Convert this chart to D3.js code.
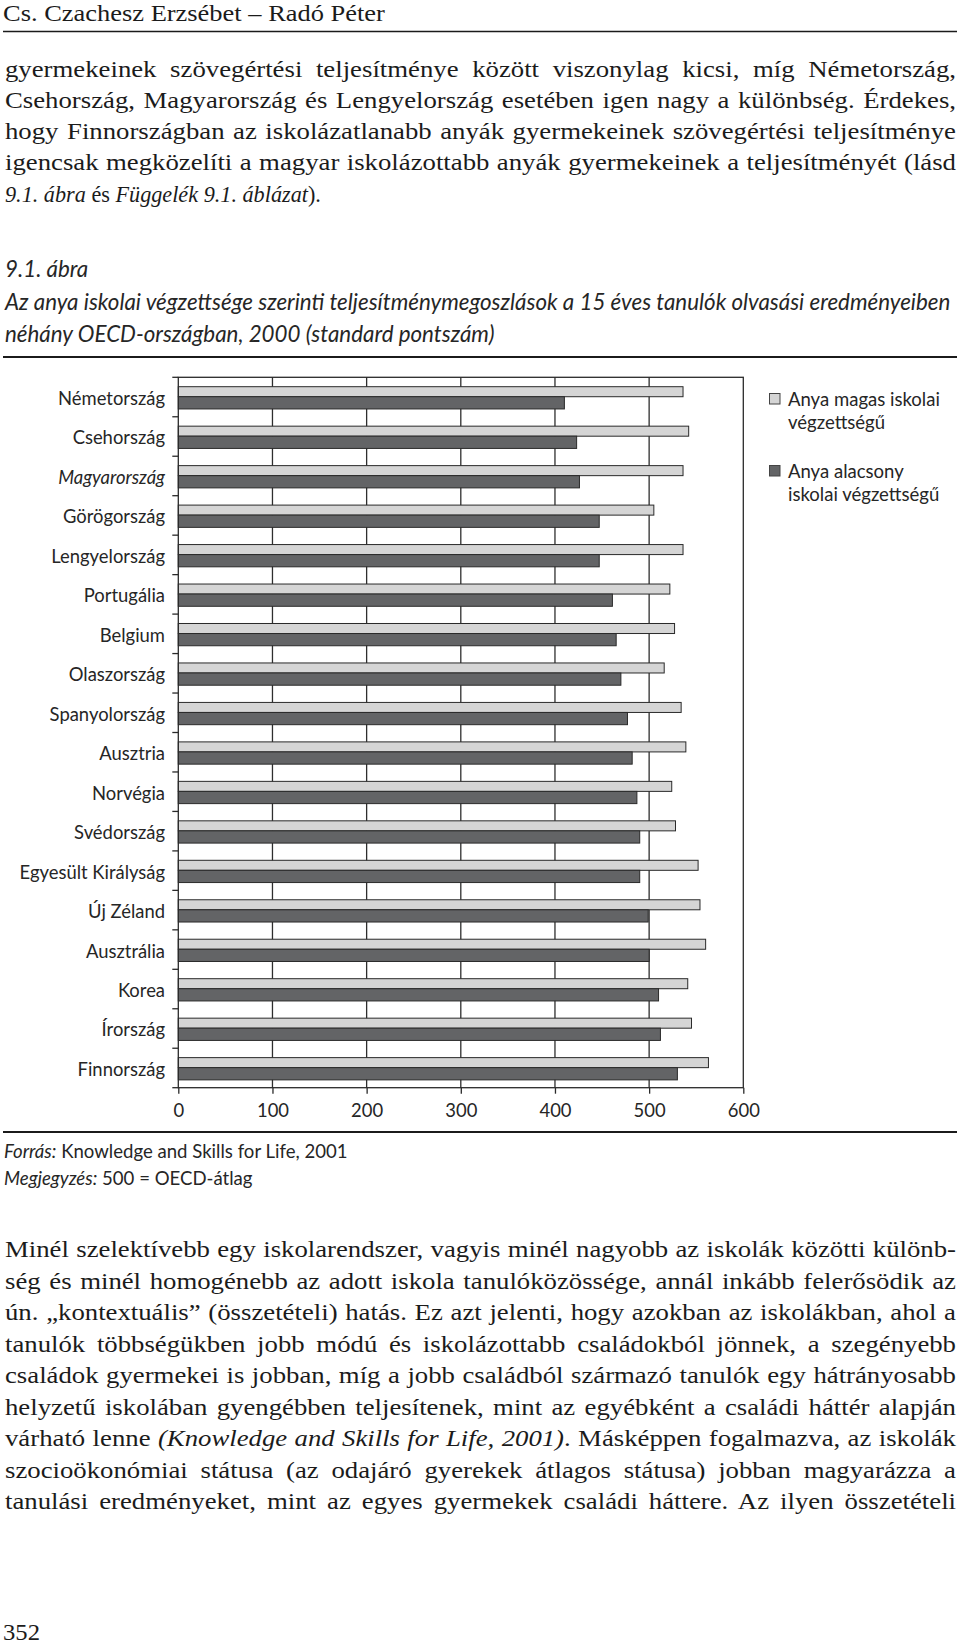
<!DOCTYPE html>
<html><head><meta charset="utf-8">
<script src="https://cdn.jsdelivr.net/npm/d3@7/dist/d3.min.js"></script>
<style>
html,body{margin:0;padding:0;background:#fff;}
svg{display:block;}
text{white-space:pre;}
</style></head><body>
<svg id="page" width="960" height="1646"></svg>
<script>
// ---------- DATA ----------
const categories = ["Németország","Csehország","Magyarország","Görögország","Lengyelország","Portugália","Belgium","Olaszország","Spanyolország","Ausztria","Norvégia","Svédország","Egyesült Királyság","Új Zéland","Ausztrália","Korea","Írország","Finnország"];
const highEdu = [536,542,536,505,536,522,527,516,534,539,524,528,552,554,560,541,545,563];
const lowEdu  = [410,423,426,447,447,461,465,470,477,482,487,490,490,499,500,510,512,530];
const xTicks = [0,100,200,300,400,500,600];
const legendHigh = ["Anya magas iskolai","végzettségű"];
const legendLow = ["Anya alacsony","iskolai végzettségű"];
const italicCategory = "Magyarország";

const header = "Cs. Czachesz Erzsébet – Radó Péter";
const para1 = [
 "gyermekeinek szövegértési teljesítménye között viszonylag kicsi, míg Németország,",
 "Csehország, Magyarország és Lengyelország esetében igen nagy a különbség. Érdekes,",
 "hogy Finnországban az iskolázatlanabb anyák gyermekeinek szövegértési teljesítménye",
 "igencsak megközelíti a magyar iskolázottabb anyák gyermekeinek a teljesítményét (lásd",
 "_9.1. ábra_ és _Függelék 9.1. áblázat_)."
];
const titleLines = ["_9.1. ábra_",
 "_Az anya iskolai végzettsége szerinti teljesítménymegoszlások a 15 éves tanulók olvasási eredményeiben_",
 "_néhány OECD-országban, 2000 (standard pontszám)_"];
const footLines = ["_Forrás:_ Knowledge and Skills for Life, 2001", "_Megjegyzés:_ 500 = OECD-átlag"];
const para2 = [
 "Minél szelektívebb egy iskolarendszer, vagyis minél nagyobb az iskolák közötti különb-",
 "ség és minél homogénebb az adott iskola tanulóközössége, annál inkább felerősödik az",
 "ún. „kontextuális” (összetételi) hatás. Ez azt jelenti, hogy azokban az iskolákban, ahol a",
 "tanulók többségükben jobb módú és iskolázottabb családokból jönnek, a szegényebb",
 "családok gyermekei is jobban, míg a jobb családból származó tanulók egy hátrányosabb",
 "helyzetű iskolában gyengébben teljesítenek, mint az egyébként a családi háttér alapján",
 "várható lenne _(Knowledge and Skills for Life, 2001)_. Másképpen fogalmazva, az iskolák",
 "szocioökonómiai státusa (az odajáró gyerekek átlagos státusa) jobban magyarázza a",
 "tanulási eredményeket, mint az egyes gyermekek családi háttere. Az ilyen összetételi"
];
const pageNumber = "352";

// ---------- HELPERS ----------
const svg = d3.select("#page");
const SERIF = "'Liberation Serif','Times New Roman',serif";
const SANS = "Lato,'Open Sans',sans-serif";
const INK = "#1b1b1b";
const CINK = "#262626";

function addLine(str, x, y, family, size, fill) {
  const t = svg.append("text").attr("x", x).attr("y", y)
    .attr("font-family", family).attr("font-size", size).attr("fill", fill || INK);
  str.split("_").forEach((s, i) => { if (s.length) t.append("tspan").attr("font-style", i % 2 ? "italic" : "normal").text(s); });
  return t;
}
function textW(t) { return t.node().getComputedTextLength(); }
function justify(t, W) {
  const nat = textW(t);
  const n = (t.text().match(/ /g) || []).length;
  if (n) t.style("word-spacing", ((W - nat) / n) + "px");
  const after = textW(t);
  if (Math.abs(after - W) > 1) t.attr("textLength", W).attr("lengthAdjust", "spacing");
}
function natW(str, family, size, italic) {
  const t = addLine(str, -2000, -2000, family, size);
  if (italic) t.selectAll("tspan").attr("font-style", "italic");
  const w = textW(t); t.remove();
  return w;
}
function fitSize(str, family, base, target, italic) {
  return base * target / natW(str, family, base, italic);
}
// a serif line drawn with horizontal scaling (to imitate the book face's proportions)
function serifLine(str, x, y, F, sx, W) {
  const t = addLine(str, 0, 0, SERIF, F);
  t.attr("transform", `translate(${x},${y}) scale(${sx},1)`);
  if (W) justify(t, W / sx);
  return t;
}

// ---------- HEADER ----------
const HF = 23.5;
const hsx = 382 / natW(header, SERIF, HF);
serifLine(header, 3, 21, HF, hsx);
svg.append("line").attr("x1", 3).attr("x2", 957).attr("y1", 31.5).attr("y2", 31.5).attr("stroke", INK).attr("stroke-width", 1.4);

// ---------- BODY TEXT ----------
const TL = 5, TR = 956, TW = TR - TL;
const BF = 23.5;
const justified = [...para1.slice(0, 4), ...para2];
const maxNat = d3.max(justified, l => natW(l.replace(/_/g, ""), SERIF, BF));
const bsx = TW / maxNat;

para1.forEach((l, i) => {
  if (i < para1.length - 1) serifLine(l, TL, 76.5 + i * 31.3, BF, bsx, TW);
  else {
    // last (short) line: same face, its width matched to the page
    const lsx = Math.min(bsx, 316 / natW(l, SERIF, BF));
    serifLine(l, TL, 76.5 + i * 31.3, BF, lsx, 0);
  }
});
para2.forEach((l, i) => serifLine(l, TL, 1257 + i * 31.5, BF, bsx, TW));
serifLine(pageNumber, 3, 1640, BF, 37 / natW(pageNumber, SERIF, BF));

// ---------- TITLE ----------
const ts = fitSize(titleLines[1].replace(/_/g, ""), SANS, 20, 946, true);
[277, 309.5, 342].forEach((yy, i) => addLine(titleLines[i], 5, yy, SANS, ts, CINK));
svg.append("line").attr("x1", 3).attr("x2", 957).attr("y1", 357).attr("y2", 357).attr("stroke", INK).attr("stroke-width", 2);

// ---------- CHART ----------
const x = d3.scaleLinear().domain([0, 600]).range([178.3, 743.3]);
const y = d3.scaleBand().domain(categories).range([377.3, 1087.7]).padding(0);
const bw = y.bandwidth();
const plotTop = y.range()[0], plotBottom = y.range()[1];
const g = svg.append("g");
const labelSize = fitSize("Egyesült Királyság", SANS, 18, 145.5);

// gridlines
g.selectAll("line.grid").data(xTicks.filter(d => d > 0 && d < 600)).join("line")
  .attr("x1", d => x(d)).attr("x2", d => x(d)).attr("y1", plotTop).attr("y2", plotBottom)
  .attr("stroke", "#2e2e2e").attr("stroke-width", 1.3);

// bars
const rows = categories.map((c, i) => ({ c, hi: highEdu[i], lo: lowEdu[i] }));
g.selectAll("rect.hi").data(rows).join("rect")
  .attr("x", x(0)).attr("y", d => y(d.c) + bw * 0.238)
  .attr("width", d => x(d.hi) - x(0)).attr("height", bw * 0.254)
  .attr("fill", "#d5d5d5").attr("stroke", "#2a2a2a").attr("stroke-width", 1);
g.selectAll("rect.lo").data(rows).join("rect")
  .attr("x", x(0)).attr("y", d => y(d.c) + bw * 0.492)
  .attr("width", d => x(d.lo) - x(0)).attr("height", bw * 0.31)
  .attr("fill", "#636466").attr("stroke", "#2a2a2a").attr("stroke-width", 1);

// frame
g.append("rect").attr("x", x(0)).attr("y", plotTop).attr("width", x(600) - x(0)).attr("height", plotBottom - plotTop)
  .attr("fill", "none").attr("stroke", "#2a2a2a").attr("stroke-width", 1.3);

// left ticks at band boundaries
const bounds = categories.map(c => y(c)).concat([plotBottom]);
g.selectAll("line.lt").data(bounds).join("line")
  .attr("x1", x(0) - 6).attr("x2", x(0)).attr("y1", d => d).attr("y2", d => d)
  .attr("stroke", "#2a2a2a").attr("stroke-width", 1.3);

// category labels
g.selectAll("text.cat").data(categories).join("text")
  .attr("x", 165).attr("y", d => y(d) + bw / 2 + 1.5).attr("dy", "0.35em")
  .attr("text-anchor", "end").attr("font-family", SANS).attr("font-size", labelSize)
  .attr("font-style", d => d === italicCategory ? "italic" : "normal")
  .attr("fill", CINK).text(d => d);

// bottom axis
const ax = g.append("g").attr("transform", `translate(0,${plotBottom})`)
  .call(d3.axisBottom(x).tickValues(xTicks).tickSize(6).tickPadding(10).tickFormat(d3.format("d")));
ax.select(".domain").remove();
ax.selectAll(".tick line").attr("stroke", "#2a2a2a").attr("stroke-width", 1.3);
ax.selectAll(".tick text").attr("font-family", SANS).attr("font-size", labelSize).attr("fill", CINK);

// legend
const legSize = fitSize(legendHigh[0], SANS, 18, 152);
[[legendHigh, "#d5d5d5", 393.5, [405.5, 429]], [legendLow, "#636466", 465.5, [477.5, 501]]].forEach(([lines, col, sy, bys]) => {
  svg.append("rect").attr("x", 769.5).attr("y", sy).attr("width", 10.5).attr("height", 10.5)
    .attr("fill", col).attr("stroke", "#444").attr("stroke-width", 1);
  lines.forEach((l, i) => addLine(l, 788, bys[i], SANS, legSize, CINK));
});

// ---------- FOOTER ----------
svg.append("line").attr("x1", 3).attr("x2", 957).attr("y1", 1132).attr("y2", 1132).attr("stroke", INK).attr("stroke-width", 2);
const fs = fitSize(footLines[0].replace(/_/g, ""), SANS, 16, 347);
addLine(footLines[0], 4, 1158, SANS, fs, CINK);
addLine(footLines[1], 4, 1185, SANS, fs, CINK);
</script>
</body></html>
